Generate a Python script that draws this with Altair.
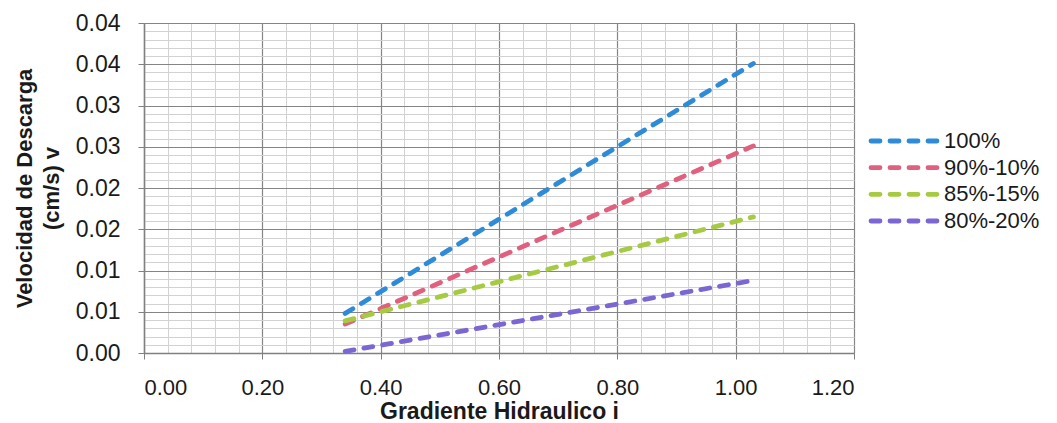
import altair as alt
import pandas as pd

# ---- data ----
series = ["100%", "90%-10%", "85%-15%", "80%-20%"]
colors = ["#2e8bd8", "#e0607e", "#a6cb43", "#7b66d4"]
gradient = [0.34, 1.03]
v_100 = [0.0048, 0.0351]
v_90_10 = [0.0035, 0.0251]
v_85_15 = [0.0039, 0.0165]
v_80_20 = [0.0002, 0.0088]

x_major = [0.0, 0.2, 0.4, 0.6, 0.8, 1.0, 1.2]
y_major = [0.0, 0.005, 0.01, 0.015, 0.02, 0.025, 0.03, 0.035, 0.04]
x_minor = [round(0.04 * k, 2) for k in range(31) if k % 5 != 0]
y_minor = [round(0.001 * k, 3) for k in range(41) if k % 5 != 0]

rows = []
for name, vals in zip(series, [v_100, v_90_10, v_85_15, v_80_20]):
    for gi, v in zip(gradient, vals):
        rows.append({"serie": name, "i": gi, "v": v})
df = pd.DataFrame(rows)
leg_df = pd.DataFrame({"serie": series})

FONT = "Liberation Sans"
xs = alt.Scale(domain=[0, 1.2], nice=False, zero=False)
ys = alt.Scale(domain=[0, 0.04], nice=False, zero=False)
cs = alt.Scale(domain=series, range=colors)

minor = alt.Chart(df).mark_point(opacity=0).encode(
    x=alt.X("i:Q", scale=xs, axis=alt.Axis(orient="top", values=x_minor, grid=True,
                                           gridColor="#d2d2d2", gridWidth=1, labels=False,
                                           ticks=False, domain=False, title=None)),
    y=alt.Y("v:Q", scale=ys, axis=alt.Axis(orient="right", values=y_minor, grid=True,
                                           gridColor="#d2d2d2", gridWidth=1, labels=False,
                                           ticks=False, domain=False, title=None)),
)

lines = alt.Chart(df).mark_line(strokeWidth=4.8, strokeDash=[9, 10], strokeCap="round").encode(
    x=alt.X("i:Q", scale=xs, axis=alt.Axis(
        orient="bottom", values=x_major, format=".2f", grid=True, gridColor="#858585",
        gridWidth=1.2, domainColor="#808080", domainWidth=1.5, tickColor="#808080",
        tickSize=6, labelFont=FONT, labelFontSize=22, labelColor="#1a1a1a",
        labelPadding=18, title="Gradiente Hidraulico i", titleFont=FONT, titleFontSize=23,
        titleFontWeight="bold", titleColor="#1a1a1a", titlePadding=2)),
    y=alt.Y("v:Q", scale=ys, axis=alt.Axis(
        orient="left", values=y_major, labelExpr="format(datum.value + 1e-9, '.2f')",
        grid=True, gridColor="#858585", gridWidth=1.2, domainColor="#808080", domainWidth=1.5,
        tickColor="#808080", tickSize=6, labelFont=FONT, labelFontSize=23,
        labelColor="#1a1a1a", labelPadding=18,
        title=["Velocidad de Descarga", "(cm/s) v"], titleFont=FONT, titleFontSize=22,
        titleFontWeight="bold", titleColor="#1a1a1a", titlePadding=12, titleLineHeight=27)),
    color=alt.Color("serie:N", scale=cs, legend=None),
)

main = alt.layer(minor, lines).resolve_axis(x="independent", y="independent").properties(
    width=710, height=330)

ly = alt.Y("serie:N", sort=series,
           scale=alt.Scale(type="point", range=[118, 198], padding=0), axis=None)
leg_rule = alt.Chart(leg_df).mark_rule(strokeWidth=4.8, strokeDash=[9, 10], strokeCap="round").encode(
    x=alt.value(3), x2=alt.value(69), y=ly,
    color=alt.Color("serie:N", scale=cs, legend=None))
leg_text = alt.Chart(leg_df).mark_text(align="left", baseline="middle", fontSize=22,
                                       font=FONT, color="#1a1a1a").encode(
    x=alt.value(76), y=ly, text="serie:N")
legend = alt.layer(leg_rule, leg_text).properties(width=165, height=330)

chart = alt.hconcat(main, legend, spacing=14, bounds="flush",
                    padding={"left": 5, "top": 4, "right": 0, "bottom": 0}
                    ).configure_view(stroke=None)

chart.save("out.html", embed_options={"renderer": "svg", "actions": False})
